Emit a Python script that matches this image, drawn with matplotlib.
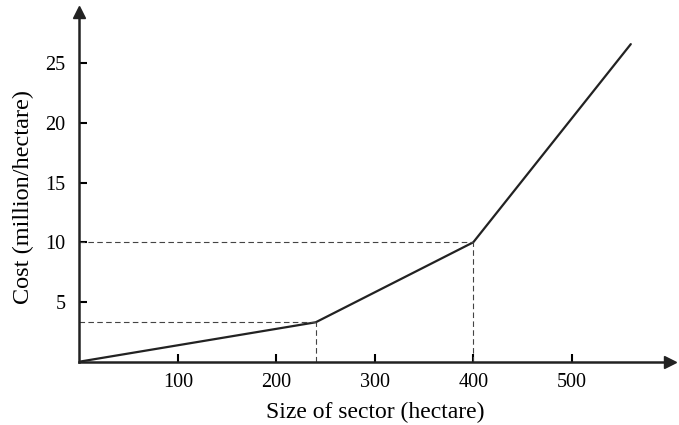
import matplotlib.pyplot as plt

# breakpoints of the cost curve
size = [0, 240, 400, 560]
cost = [0, 3.3, 10, 26.6]

x_ticks = [100, 200, 300, 400, 500]
y_ticks = [5, 10, 15, 20, 25]

plt.rcParams["font.family"] = ["Liberation Serif", "DejaVu Serif"]

fig = plt.figure(figsize=(6.79, 4.25), dpi=100)
ax = fig.add_axes([0.117, 0.149, 0.870, 0.823])

ax.plot(size, cost, color="#222222", lw=1.6, solid_capstyle="round")

# dashed guide lines at the two knees
for xk, yk in zip(size[1:3], cost[1:3]):
    ax.plot([0, xk], [yk, yk], ls=(0, (5, 3)), color="#444444", lw=0.8)
    ax.plot([xk, xk], [0, yk], ls=(0, (5, 3)), color="#444444", lw=0.8)

ax.set_xlim(0, 600)
ax.set_ylim(0, 29.3)
ax.set_xticks(x_ticks)
ax.set_yticks(y_ticks)
ax.tick_params(direction="in", length=6, width=1.5, labelsize=14.5)
ax.tick_params(axis="x", pad=8)
ax.tick_params(axis="y", pad=10)

for s in ["top", "right"]:
    ax.spines[s].set_visible(False)
for s in ["left", "bottom"]:
    ax.spines[s].set_linewidth(1.8)
    ax.spines[s].set_color("#222222")

# arrow heads on the axes
ax.plot(1, 0, ">", color="#222222", ms=8, transform=ax.transAxes, clip_on=False)
ax.plot(0, 1, "^", color="#222222", ms=8, transform=ax.transAxes, clip_on=False)

ax.set_xlabel("Size of sector (hectare)", fontsize=17, labelpad=7)
ax.set_ylabel("Cost (million/hectare)", fontsize=17.5)
ax.yaxis.set_label_coords(-0.077, 0.47)

fig.savefig("out.png", dpi=100)
